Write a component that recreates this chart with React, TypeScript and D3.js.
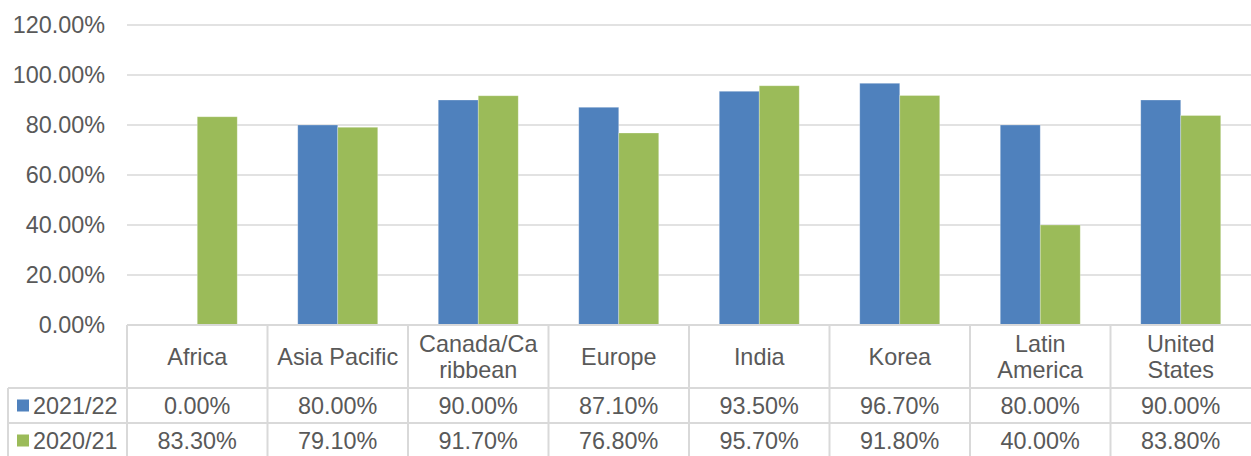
import React from "react";
import * as d3 from "d3";

const categories = ["Africa", "Asia Pacific", "Canada/Caribbean", "Europe", "India", "Korea", "Latin America", "United States"];
const categoryLines = [["Africa"], ["Asia Pacific"], ["Canada/Ca", "ribbean"], ["Europe"], ["India"], ["Korea"], ["Latin", "America"], ["United", "States"]];
const seriesNames = ["2021/22", "2020/21"];
const values2021 = [0.0, 80.0, 90.0, 87.1, 93.5, 96.7, 80.0, 90.0];
const values2020 = [83.3, 79.1, 91.7, 76.8, 95.7, 91.8, 40.0, 83.8];
const seriesColors = ["#4F81BD", "#9BBB59"];
const yTicks = [0, 20, 40, 60, 80, 100, 120];

const W = 1251;
const H = 456;
const plotLeft = 127;
const plotRight = 1251;
const plotTop = 25;
const plotBottom = 325;
const headerBottom = 388;
const row1Bottom = 423;
const legendLeft = 8;
const FONT = "'Liberation Sans', Arial, sans-serif";
const FS = 23.4;
const TXT = "#595959";
const GRID = "#d9d9d9";

export default function App() {
  const series = [values2021, values2020];
  const x0 = d3.scaleBand<string>().domain(categories).range([plotLeft, plotRight]).padding(0);
  const x1 = d3.scaleBand<string>().domain(seriesNames).range([-40, 40]).padding(0);
  const y = d3.scaleLinear().domain([0, 120]).range([plotBottom, plotTop]);
  const fmt = (v: number) => d3.format(".2f")(v) + "%";

  const colBounds = categories.map((c) => x0(c)!);

  return (
    <div style={{ position: "absolute", left: 0, top: 0, width: W, height: H, background: "#fff" }}>
      <svg width={W} height={H} style={{ display: "block", fontFamily: FONT }}>
        <rect width={W} height={H} fill="#fff" />
        {yTicks.filter((t) => t > 0).map((t) => (
          <line key={t} x1={plotLeft} x2={plotRight} y1={y(t)} y2={y(t)} stroke={GRID} strokeWidth={1.5} />
        ))}
        {yTicks.map((t) => (
          <text key={t} x={105} y={y(t)} dy="0.35em" textAnchor="end" fontSize={FS} fill={TXT}>
            {fmt(t)}
          </text>
        ))}
        {categories.map((c, i) => (
          <g key={c} transform={`translate(${x0(c)! + x0.bandwidth() / 2},0)`}>
            {seriesNames.map((s, j) => {
              const v = series[j][i];
              return (
                <rect
                  key={s}
                  x={x1(s)!}
                  y={y(v)}
                  width={x1.bandwidth()}
                  height={plotBottom - y(v)}
                  fill={seriesColors[j]}
                  stroke="#ffffff"
                  strokeOpacity={0.35}
                  strokeWidth={0.8}
                />
              );
            })}
          </g>
        ))}
        <line x1={plotLeft} x2={plotRight} y1={plotBottom} y2={plotBottom} stroke={GRID} strokeWidth={2} />
        <line x1={legendLeft} x2={plotRight} y1={headerBottom} y2={headerBottom} stroke={GRID} strokeWidth={2} />
        <line x1={legendLeft} x2={plotRight} y1={row1Bottom} y2={row1Bottom} stroke={GRID} strokeWidth={2} />
        <line x1={legendLeft} x2={legendLeft} y1={headerBottom} y2={H} stroke={GRID} strokeWidth={2} />
        {colBounds.map((b, i) => (
          <line key={i} x1={b} x2={b} y1={plotBottom} y2={H} stroke={GRID} strokeWidth={2} />
        ))}
        {categories.map((c, i) => {
          const lines = categoryLines[i];
          const cx = x0(c)! + x0.bandwidth() / 2;
          const mid = (plotBottom + headerBottom) / 2;
          const lh = 26;
          return (
            <text key={c} textAnchor="middle" fontSize={FS} fill={TXT}>
              {lines.map((l, k) => (
                <tspan key={k} x={cx} y={mid + (k - (lines.length - 1) / 2) * lh} dy="0.35em">
                  {l}
                </tspan>
              ))}
            </text>
          );
        })}
        {seriesNames.map((s, j) => {
          const top = j === 0 ? headerBottom : row1Bottom;
          const bottom = j === 0 ? row1Bottom : row1Bottom + (row1Bottom - headerBottom);
          const cy = (top + bottom) / 2;
          return (
            <g key={s}>
              <rect x={17} y={cy - 6} width={12} height={12} fill={seriesColors[j]} />
              <text x={33} y={cy} dy="0.35em" fontSize={FS} fill={TXT}>
                {s}
              </text>
              {categories.map((c, i) => (
                <text key={c} x={x0(c)! + x0.bandwidth() / 2} y={cy} dy="0.35em" textAnchor="middle" fontSize={FS} fill={TXT}>
                  {fmt(series[j][i])}
                </text>
              ))}
            </g>
          );
        })}
      </svg>
    </div>
  );
}
